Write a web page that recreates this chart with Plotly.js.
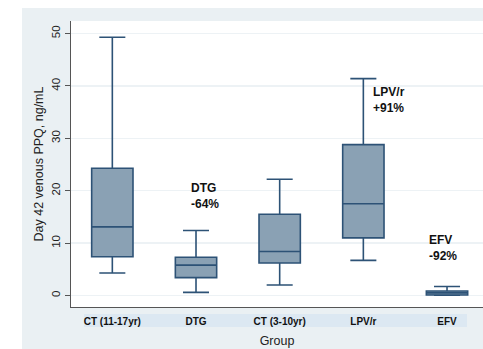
<!DOCTYPE html>
<html>
<head>
<meta charset="utf-8">
<script src="https://cdn.plot.ly/plotly-3.0.1.min.js"></script>
<style>html,body{margin:0;padding:0;background:#fff;overflow:hidden;}</style>
</head>
<body>
<div id="chart" style="width:483px;height:349px;"></div>
<script>
// Data (ng/mL)
const groups = ["CT (11-17yr)", "DTG", "CT (3-10yr)", "LPV/r", "EFV"];
const lowerWhisker = [4.3, 0.6, 2.0, 6.7, 0.05];
const q1 = [7.4, 3.4, 6.2, 11.0, 0.1];
const medians = [13.1, 5.8, 8.4, 17.5, 0.5];
const q3 = [24.3, 7.3, 15.5, 28.8, 0.85];
const upperWhisker = [49.3, 12.4, 22.2, 41.4, 1.7];

// Annotation labels
const noteGroups = ["DTG", "LPV/r", "EFV"];
const noteNames = ["DTG", "LPV/r", "EFV"];
const notePct = ["-64%", "+91%", "-92%"];
const noteY = [19.0, 37.4, 9.1];
const noteDx = [-0.078, 0.093, -0.24];

const yTicks = [0, 10, 20, 30, 40, 50];

const trace = {
  type: "box",
  x: groups,
  q1: q1,
  median: medians,
  q3: q3,
  lowerfence: lowerWhisker,
  upperfence: upperWhisker,
  boxpoints: false,
  width: 0.494,
  whiskerwidth: 0.63,
  fillcolor: "#8aa1b4",
  line: { color: "#2d5276", width: 1.6 },
  hoverinfo: "skip",
  showlegend: false
};

const annotations = noteGroups.map((g, i) => ({
  x: groups.indexOf(g) + noteDx[i],
  y: noteY[i],
  xref: "x",
  yref: "y",
  text: "<b>" + noteNames[i] + "<br>" + notePct[i] + "</b>",
  showarrow: false,
  xanchor: "left",
  yanchor: "middle",
  align: "left",
  font: { family: "Liberation Sans, Arial, sans-serif", size: 12, color: "#111" }
}));

const plotLeft = 71, plotTop = 21, plotBottom = 307;
const W = 483, H = 349;
const pw = W - plotLeft, ph = plotBottom - plotTop;
const px = v => (v - plotLeft) / pw;
const py = v => (plotBottom - v) / ph;

const shapes = [
  // white strips outside the grey frame
  { type: "rect", xref: "paper", yref: "paper", x0: px(0), x1: px(22), y0: py(H), y1: py(0), fillcolor: "#ffffff", line: { width: 0 }, layer: "below" },
  { type: "rect", xref: "paper", yref: "paper", x0: px(0), x1: px(W), y0: py(8), y1: py(0), fillcolor: "#ffffff", line: { width: 0 }, layer: "below" },
  // label band
  { type: "rect", xref: "paper", yref: "paper", x0: px(84), x1: px(467), y0: py(327), y1: py(314), fillcolor: "#dce8f2", line: { width: 0 }, layer: "below" }
];

const layout = {
  width: W,
  height: H,
  margin: { l: plotLeft, r: 0, t: plotTop, b: H - plotBottom, pad: 0 },
  paper_bgcolor: "#eaf0f3",
  plot_bgcolor: "#ffffff",
  font: { family: "Liberation Sans, Arial, sans-serif", color: "#222" },
  xaxis: {
    type: "category",
    range: [-0.494, 4.43],
    showgrid: false,
    zeroline: false,
    showline: true,
    linecolor: "#555",
    linewidth: 1,
    ticks: "",
    tickfont: { size: 10, color: "#111", family: "Liberation Sans, Arial, sans-serif", weight: "bold" },
    ticklabelstandoff: 5,
    title: { text: "Group", font: { size: 12.5, color: "#222" }, standoff: 10 }
  },
  yaxis: {
    range: [-2.2, 52.4],
    tickvals: yTicks,
    ticktext: yTicks.map(String),
    tickangle: -90,
    showgrid: true,
    gridcolor: "#edf2f5",
    gridwidth: 1.3,
    zeroline: false,
    showline: true,
    linecolor: "#555",
    linewidth: 1,
    ticks: "outside",
    ticklen: 5,
    tickcolor: "#555",
    tickfont: { size: 11.5, color: "#222" },
    title: { text: "Day 42 venous PPQ, ng/mL", font: { size: 12.5, color: "#222" }, standoff: 4 }
  },
  annotations: annotations,
  shapes: shapes
};

Plotly.newPlot("chart", [trace], layout, { displayModeBar: false, staticPlot: true });
</script>
</body>
</html>
